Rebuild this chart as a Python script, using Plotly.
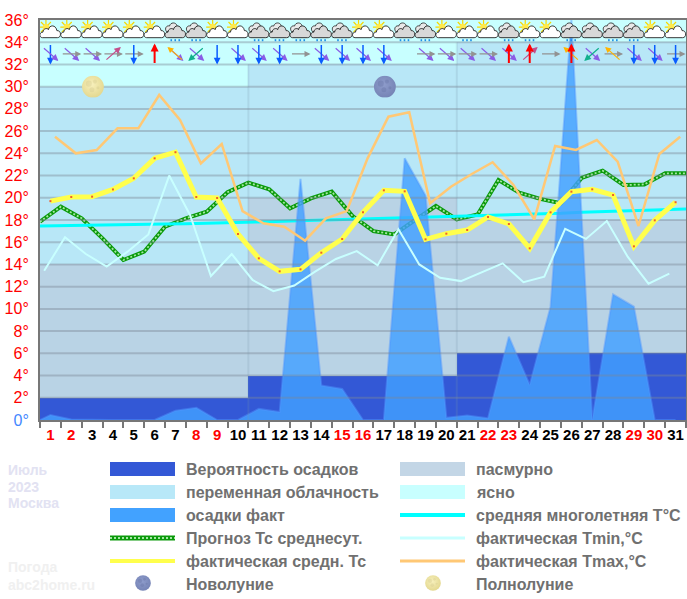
import base64

import plotly.graph_objects as go

# дни месяца и подписи
days = list(range(1, 32))
weekend_days = [1, 2, 8, 9, 15, 16, 22, 23, 29, 30]
y_ticks = list(range(0, 37, 2))

# облачность и вероятность осадков по дням
clear_top = [36] * 31
mid_top = [30] * 10 + [32] * 10 + [34] * 11
overcast_top = [14] * 10 + [20] * 10 + [18] * 11
rain_prob = [2] * 10 + [4] * 10 + [6] * 11

# осадки факт: первая точка - начало оси
precip = [0, 0.45, 0.05, 0, 0, 0, 0, 0.84, 1.1, 0, 0, 1.0, 0.72, 21.7, 3.1, 2.8, 0, 0,
          23.55, 20.2, 0.2, 0.4, 0.15, 7.5, 3.15, 10.2, 36.0, 0, 11.3, 10.2, 0, 0]

forecast = [17.85, 19.2, 18.15, 16.35, 14.4, 15.15, 17.4, 18.15, 18.75, 20.5, 21.36,
            20.76, 19.05, 19.95, 20.55, 18.36, 17.0, 16.7, 18.0, 19.26, 18.06, 18.5,
            21.6, 20.46, 19.9, 19.5, 21.8, 22.44, 21.15, 21.2, 22.2, 22.2]
normal = [17.45, 17.47, 17.5, 17.52, 17.56, 17.6, 17.63, 17.67, 17.7, 17.75, 17.8,
          17.85, 17.9, 17.95, 18.0, 18.05, 18.1, 18.15, 18.2, 18.25, 18.3, 18.4,
          18.45, 18.5, 18.55, 18.6, 18.7, 18.75, 18.8, 18.9, 18.95, 19.0]
t_mean = [19.7, 20.07, 20.1, 20.75, 21.75, 23.55, 24.1, 20.07, 19.98, 16.74, 14.55,
          13.38, 13.56, 15.06, 16.29, 18.69, 20.67, 20.58, 16.26, 16.77, 17.1, 18.27,
          17.64, 15.45, 18.69, 20.55, 20.76, 20.25, 15.63, 17.97, 19.6]
t_min = [13.44, 16.44, 14.94, 13.8, 15.15, 16.7, 22.0, 18.45, 12.96, 14.94, 12.6, 11.6,
         12.1, 13.35, 14.49, 15.2, 13.92, 17.16, 14.0, 12.8, 12.5, 13.3, 14.1, 12.4,
         12.9, 17.2, 16.3, 17.9, 14.7, 12.27, 13.17]
t_max = [25.5, 24.0, 24.3, 26.25, 26.25, 29.25, 27.0, 23.1, 24.84, 18.8, 17.7, 17.4,
         16.14, 18.15, 18.8, 23.55, 27.3, 27.7, 19.5, 21.0, 22.14, 23.2, 21.15, 18.06,
         24.66, 24.3, 25.2, 23.25, 17.46, 23.94, 25.5]

# значки погоды: s - солнце, sr - солнце с дождем, r - дождь, c - облачно
weather = ["s", "s", "s", "s", "s", "s", "r", "r", "s", "s", "r", "r", "r", "r", "r", "s",
           "s", "r", "r", "s", "sr", "s", "r", "sr", "s", "r", "c", "r", "r", "s", "s"]
# ветер: направления стрелок за день
wind_a = ["SE", "E", "E", "NE", "S", "N", "NW", "SW", "S", "S", "S", "S", "E", "S", "S", "S",
          "S", "", "E", "E", "E", "E", "N", "N", "E", "N", "SW", "NW", "S", "S", "S"]
wind_b = ["S", "SE", "SE", "E", "E", "", "SE", "SE", "", "SE", "SE", "SE", "", "SE", "SE", "SE",
          "SE", "", "SE", "SE", "SE", "SE", "SE", "NE", "", "NW", "SE", "E", "SE", "SE", "E"]

wind_style = {
    "E": ((20, 0), "#929292", 1.2, 1.0),
    "SE": ((16, 14), "#8A5CE6", 1.2, 1.1),
    "S": ((0, 21), "#0A5CFF", 1.5, 0.9),
    "N": ((0, -21), "#FF0000", 2, 0.8),
    "NE": ((16, -14), "#C4508C", 1.2, 1.1),
    "NW": ((-16, -14), "#FFB400", 1.2, 1.0),
    "SW": ((-16, 14), "#10B08C", 1.2, 1.1),
}

legend_rows = [469, 492, 515, 538, 561, 584]


def px_x(px):
    return (px - 40) / 646


def px_y(py):
    return (420 - py) / 400


def svg_uri(svg):
    return "data:image/svg+xml;base64," + base64.b64encode(svg.encode()).decode()


CLOUD = ('<path d="M3 17.5 C-0.5 17.5 -0.5 12 3.5 12 C3.5 8.5 8 7.5 9 9.5 C10 4.5 16.5 4.5 17.5 10.5 '
         'C22 10 22.5 17.5 18 17.5 Z" fill="{fill}" stroke="#222" stroke-width="0.9"/>')
BACK = ('<path d="M2 11.5 C-0.5 8 2.5 5 5 6 C6 2 11.5 2 12.5 5.5 L7 11.5 Z" fill="#e8e8e8" stroke="#222" '
        'stroke-width="0.8"/>')
SUN = ('<g stroke="#F5D800" stroke-width="1.2"><path d="M6.5 0V14M-0.5 7H13.5M1.5 2L11.5 12M11.5 2L1.5 12"/></g>'
       '<circle cx="6.5" cy="7" r="3.2" fill="#FFE94A"/>')
DROPS = ('<g fill="#1E90E8"><rect x="6" y="19" width="1.6" height="2"/><rect x="10" y="19" width="1.6" height="2"/>'
         '<rect x="14" y="19" width="1.6" height="2"/></g>')


def icon(code):
    body = {
        "s": SUN + CLOUD.format(fill="#ffffff"),
        "sr": SUN + CLOUD.format(fill="#ffffff") + DROPS,
        "r": BACK + CLOUD.format(fill="#d8d8d8") + DROPS,
        "c": BACK + CLOUD.format(fill="#d8d8d8"),
    }[code]
    return svg_uri(f'<svg xmlns="http://www.w3.org/2000/svg" viewBox="0 0 22 22" width="66" height="66">{body}</svg>')


def moon(light, dark, spot):
    return svg_uri(
        '<svg xmlns="http://www.w3.org/2000/svg" viewBox="0 0 22 22" width="88" height="88">'
        f'<defs><radialGradient id="g" cx="0.45" cy="0.4" r="0.65"><stop offset="0" stop-color="{light}"/>'
        f'<stop offset="1" stop-color="{dark}"/></radialGradient></defs>'
        '<circle cx="11" cy="11" r="10.8" fill="url(#g)"/>'
        f'<g fill="{spot}" opacity="0.3"><circle cx="7" cy="8" r="3"/><circle cx="13" cy="6" r="2"/>'
        '<circle cx="10" cy="14" r="2.5"/><circle cx="16" cy="12" r="1.5"/></g></svg>'
    )


FULL_MOON = moon("#F7F0BC", "#E2D68C", "#CFC48A")
NEW_MOON = moon("#8E9CCB", "#7482B4", "#5F6C9E")

fig = go.Figure()

# фон из столбцов
for vals, color in [(clear_top, "#C8FFFF"), (mid_top, "#B8E7F7"), (overcast_top, "#B9D3E5"), (rain_prob, "#3358D6")]:
    fig.add_trace(go.Bar(x=[d - 0.5 for d in days], y=vals, width=1, marker=dict(color=color, line_width=0)))

fig.add_trace(go.Scatter(x=list(range(32)), y=forecast, mode="lines", line=dict(color="#0A9A0A", width=4)))
fig.add_trace(go.Scatter(x=list(range(32)), y=forecast, mode="lines",
                         line=dict(color="#A4E6A4", width=1.8, dash="2px,2px")))
fig.add_trace(go.Scatter(x=list(range(32)), y=normal, mode="lines", line=dict(color="#00FFFF", width=3)))

fig.add_trace(go.Scatter(x=[0] + [d - 0.5 for d in days], y=precip, mode="lines", fill="tozeroy",
                         fillcolor="rgba(66,160,255,0.82)", line=dict(color="rgba(80,150,255,0.45)", width=2)))

# сетка поверх осадков
grid_x, grid_y = [], []
for v in y_ticks[1:-1]:
    grid_x += [0, 31, None]
    grid_y += [v, v, None]
fig.add_trace(go.Scatter(x=grid_x, y=grid_y, mode="lines", line=dict(color="rgba(125,135,150,0.42)", width=2)))
fig.add_trace(go.Scatter(x=[10, 10, None, 20, 20], y=[0, 32, None, 0, 34], mode="lines",
                         line=dict(color="rgba(120,150,170,0.2)", width=2)))

fig.add_trace(go.Scatter(x=[d - 1 + 0.2 for d in days], y=t_min, mode="lines", line=dict(color="#C8FFFF", width=2)))
fig.add_trace(go.Scatter(x=[d - 1 + 0.72 for d in days], y=t_max, mode="lines", line=dict(color="#FFC875", width=2.5)))
fig.add_trace(go.Scatter(x=[d - 0.5 for d in days], y=t_mean, mode="lines+markers", line=dict(color="#FFFF4D", width=5),
                         marker=dict(color="#F0602A", size=2, symbol="square")))

images = []
for d, code in zip(days, weather):
    images.append(dict(source=icon(code), xref="x", yref="y", x=d - 0.5, y=36, sizex=1.05, sizey=2.0,
                       xanchor="center", yanchor="top", sizing="stretch", layer="above"))
images.append(dict(source=FULL_MOON, xref="x", yref="y", x=2.54, y=30, sizex=1.1, sizey=2.0,
                   xanchor="center", yanchor="middle", layer="above"))
images.append(dict(source=NEW_MOON, xref="x", yref="y", x=16.55, y=30, sizex=1.1, sizey=2.0,
                   xanchor="center", yanchor="middle", layer="above"))

annotations = []
for d, a, b in zip(days, wind_a, wind_b):
    for name in (b, a):
        if not name:
            continue
        (dx, dy), color, lw, head = wind_style[name]
        annotations.append(dict(x=d - 0.5, y=32.95, xref="x", yref="y", text="", showarrow=True,
                                xshift=dx / 2, yshift=-dy / 2, ax=-dx, ay=-dy, axref="pixel", ayref="pixel",
                                arrowhead=2, arrowsize=head, arrowwidth=lw,
                                arrowcolor=color, standoff=0, startstandoff=0))

shapes = []
swatches = [
    (110, 0, "rect", "#3358D6", "Вероятность осадков"),
    (110, 1, "rect", "#B8E8F8", "переменная облачность"),
    (110, 2, "rect", "#42A2FF", "осадки факт"),
    (110, 3, "forecast", "#0A9A0A", "Прогноз Тс среднесут."),
    (110, 4, "line", "#FFFF4D", "фактическая средн. Тс"),
    (110, 5, "new", "", "Новолуние"),
    (400, 0, "rect", "#C3D6E6", "пасмурно"),
    (400, 1, "rect", "#C8FFFF", "ясно"),
    (400, 2, "line", "#00FFFF", "средняя многолетняя Т°С"),
    (400, 3, "thin", "#C8FFFF", "фактическая Tmin,°С"),
    (400, 4, "thin", "#FFC875", "фактическая Tmax,°С"),
    (400, 5, "full", "", "Полнолуние"),
]
for left, row, kind, color, label in swatches:
    cy = legend_rows[row]
    x0, x1 = px_x(left), px_x(left + 65)
    if kind == "rect":
        shapes.append(dict(type="rect", xref="paper", yref="paper", x0=x0, x1=x1, y0=px_y(cy - 7), y1=px_y(cy + 7),
                           fillcolor=color, line_width=0))
    elif kind in ("line", "thin", "forecast"):
        width = {"line": 4, "thin": 3, "forecast": 5}[kind]
        shapes.append(dict(type="line", xref="paper", yref="paper", x0=x0, x1=x1, y0=px_y(cy), y1=px_y(cy),
                           line=dict(color=color, width=width)))
        if kind == "forecast":
            shapes.append(dict(type="line", xref="paper", yref="paper", x0=x0, x1=x1, y0=px_y(cy), y1=px_y(cy),
                               line=dict(color="#A4E6A4", width=2, dash="2px,2px")))
    else:
        images.append(dict(source=NEW_MOON if kind == "new" else FULL_MOON, xref="paper", yref="paper",
                           x=px_x(left + 33), y=px_y(cy - 1), sizex=16 / 646, sizey=16 / 400,
                           xanchor="center", yanchor="middle", layer="above"))
    annotations.append(dict(x=px_x(left + 74), y=px_y(cy), xref="paper", yref="paper", text=f"<b>{label}</b>",
                            showarrow=False, xanchor="left", yanchor="middle",
                            font=dict(family="Liberation Sans", size=16, color="#707070")))

for text, cy, color in [("Июль", 470, "#E2E2F2"), ("2023", 487, "#E2E2F2"), ("Москва", 503, "#E2E2F2"),
                        ("Погода", 567, "#F0F0F0"), ("abc2home.ru", 585, "#F0F0F0")]:
    annotations.append(dict(x=px_x(6), y=px_y(cy), xref="paper", yref="paper", text=f"<b>{text}</b>", showarrow=False,
                            xanchor="left", yanchor="middle", font=dict(family="Liberation Sans", size=14, color=color)))

y_labels = [f'<span style="color:{"#4488FF" if v == 0 else "#FF0000"}">{v}°</span>' for v in y_ticks]
x_labels = [f'<b><span style="color:{"#FF0000" if d in weekend_days else "#000000"}">{d}</span></b>' for d in days]

fig.update_layout(
    width=687,
    height=599,
    margin=dict(l=40, r=1, t=20, b=179, autoexpand=False),
    paper_bgcolor="white",
    plot_bgcolor="#C8FFFF",
    showlegend=False,
    hovermode=False,
    barmode="overlay",
    bargap=0,
    images=images,
    annotations=annotations,
    shapes=shapes,
    xaxis=dict(
        range=[0, 31],
        automargin=False,
        tickmode="array",
        tickvals=[d - 0.5 for d in days],
        ticktext=x_labels,
        ticks="",
        tickfont=dict(family="Liberation Sans", size=15),
        showgrid=False,
        zeroline=False,
        showline=True,
        linecolor="#777777",
        linewidth=2,
        mirror=True,
        minor=dict(tickmode="array", tickvals=list(range(32)), ticks="outside", ticklen=6, tickwidth=2,
                   tickcolor="#777777", showgrid=False),
    ),
    yaxis=dict(
        range=[0, 36],
        automargin=False,
        tickmode="array",
        tickvals=y_ticks,
        ticktext=y_labels,
        ticks="",
        ticklabelstandoff=6,
        tickfont=dict(family="Liberation Sans", size=16),
        showgrid=False,
        zeroline=False,
        showline=True,
        linecolor="#777777",
        linewidth=2,
        mirror=True,
    ),
)

# убираем отступ страницы, чтобы фигура легла точно в окно
fig.write_html(
    "out.html",
    config={"displayModeBar": False},
    post_script="document.body.style.margin='0';document.documentElement.style.overflow='hidden';",
)
